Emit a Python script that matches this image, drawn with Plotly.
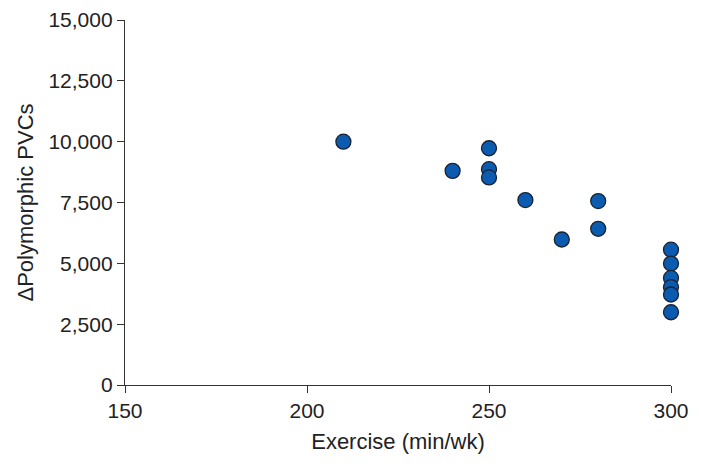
import plotly.graph_objects as go

exercise = [210, 240, 250, 250, 250, 260, 270, 280, 280, 300, 300, 300, 300, 300, 300]
pvcs = [10000, 8800, 9730, 8870, 8530, 7600, 5980, 7560, 6420, 5560, 4990, 4400, 4020, 3720, 2990]

x_ticks = [150, 200, 250, 300]
y_ticks = [0, 2500, 5000, 7500, 10000, 12500, 15000]

fig = go.Figure(go.Scatter(
    x=exercise, y=pvcs, mode="markers",
    marker=dict(size=15, color="#0b5bb0", line=dict(color="#1b2230", width=1.3)),
    cliponaxis=False,
))

axis_common = dict(
    showgrid=False, zeroline=False, showline=True, linecolor="#333333", linewidth=1.3,
    ticks="outside", ticklen=7, tickwidth=1.3, tickcolor="#333333", automargin=False,
    tickfont=dict(family="Liberation Sans, Arial, sans-serif", size=21, color="#222222"),
)

fig.update_layout(
    width=701, height=469,
    margin=dict(l=125, r=30, t=20, b=84),
    paper_bgcolor="white", plot_bgcolor="white",
    showlegend=False,
    font=dict(family="Liberation Sans, Arial, sans-serif", color="#222222"),
    xaxis=dict(range=[150, 300], tickvals=x_ticks, ticktext=[str(v) for v in x_ticks],
               title=dict(text="Exercise (min/wk)", font=dict(size=22), standoff=12),
               **axis_common),
    yaxis=dict(range=[0, 15000], tickvals=y_ticks, ticktext=[f"{v:,}" for v in y_ticks],
               title=dict(text="ΔPolymorphic PVCs", font=dict(size=22), standoff=8),
               **axis_common),
)

fig.write_html("out.html", config={"displayModeBar": False},
               post_script="document.body.style.margin='0';")
